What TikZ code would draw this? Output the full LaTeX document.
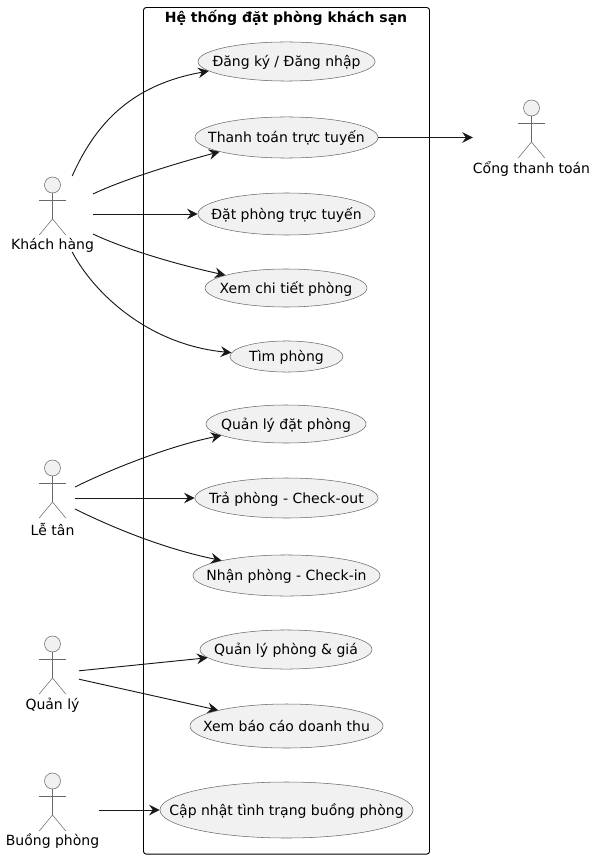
\documentclass[tikz,border=0pt]{standalone}
\usepackage{fontspec}
\setmainfont{DejaVu Sans}
\usetikzlibrary{arrows.meta,shapes.geometric}
\definecolor{ucfill}{HTML}{F1F1F1}
\definecolor{ucline}{HTML}{181818}
\tikzset{
	usecase/.style={ellipse,draw=ucline!65,fill=ucfill,line width=0.4pt,inner sep=0pt,text height=9.5pt,text depth=1.7pt,font=\fontsize{10.5}{12}\selectfont},
	actorbox/.style={inner sep=0pt,outer sep=0pt},
	actorlabel/.style={inner sep=0pt,font=\fontsize{10.5}{12}\selectfont},
	assoc/.style={-{Stealth[inset=2.8pt,length=8pt,width=8pt]},draw=ucline,line width=0.7pt},
}
\newcommand{\uctext}[1]{\makebox[0pt]{#1}}
\newcommand{\stickman}[2]{%
	\draw[draw=ucline!65,fill=ucfill,line width=0.4pt] (#1,#2) circle (8);
	\draw[draw=ucline!65,line width=0.4pt] (#1,#2+8) -- (#1,#2+34) (#1-13.3,#2+15.5) -- (#1+13.3,#2+15.5)
		(#1-13.3,#2+50) -- (#1,#2+34) -- (#1+13.3,#2+50);
}
\begin{document}
\begin{tikzpicture}[x = 0.75pt, y = -0.75pt]
	\useasboundingbox (0,0) rectangle (596,859);
	
	\node[draw=black,line width=0.7pt,rounded corners=2pt,minimum width=214.5pt,minimum height=634.9pt,inner sep=0pt] (hethong) at (286.5,430.8) {};
	\node[inner sep=0pt,font=\bfseries\fontsize{10.5}{12}\selectfont] (tieude) at (286,18) {Hệ thống đặt phòng khách sạn};
	
	\node[usecase,minimum width=132.8pt,minimum height=29.3pt] (dangky) at (286.5,61.5) {\uctext{Đăng ký / Đăng nhập}};
	\node[usecase,minimum width=137.3pt,minimum height=30.8pt] (thanhtoan) at (286.5,137.5) {\uctext{Thanh toán trực tuyến}};
	\node[usecase,minimum width=132.8pt,minimum height=31.5pt] (datphong) at (286.5,214) {\uctext{Đặt phòng trực tuyến}};
	\node[usecase,minimum width=121.5pt,minimum height=28.5pt] (chitiet) at (286,288) {\uctext{Xem chi tiết phòng}};
	\node[usecase,minimum width=84.8pt,minimum height=23.3pt] (timphong) at (286.5,356.5) {\uctext{Tìm phòng}};
	\node[usecase,minimum width=120pt,minimum height=28.5pt] (quanlydat) at (286,424) {\uctext{Quản lý đặt phòng}};
	\node[usecase,minimum width=137.3pt,minimum height=30pt] (traphong) at (286.5,498) {\uctext{Trả phòng - Check-out}};
	\node[usecase,minimum width=140.3pt,minimum height=30.8pt] (nhanphong) at (286.5,575.5) {\uctext{Nhận phòng - Check-in}};
	\node[usecase,minimum width=129pt,minimum height=29.3pt] (quanlygia) at (286,649.5) {\uctext{Quản lý phòng \& giá}};
	\node[usecase,minimum width=144.8pt,minimum height=33pt] (baocao) at (286.5,726) {\uctext{Xem báo cáo doanh thu}};
	\node[usecase,minimum width=189.8pt,minimum height=42pt] (capnhat) at (286.5,810) {\uctext{Cập nhật tình trạng buồng phòng}};
	
	\stickman{52.5}{185}
	\stickman{52.5}{468}
	\stickman{52.5}{644}
	\stickman{52.5}{781}
	\stickman{531.5}{108}
	
	\node[actorlabel] (lblkhach) at (52.5,245) {Khách hàng};
	\node[actorlabel] (lblletan) at (52.5,529) {Lễ tân};
	\node[actorlabel] (lblquanly) at (52.5,705) {Quản lý};
	\node[actorlabel] (lblbuong) at (52.5,841) {Buồng phòng};
	\node[actorlabel] (lblcong) at (531.5,169) {Cổng thanh toán};
	
	\node[actorbox,minimum width=61.5pt,minimum height=57pt] (khach) at (52,214) {};
	\node[actorbox,minimum width=33.75pt,minimum height=57pt] (letan) at (52.5,498) {};
	\node[actorbox,minimum width=39.75pt,minimum height=57pt] (quanly) at (52.5,675) {};
	\node[actorbox,minimum width=70pt,minimum height=57pt] (buong) at (52.5,810) {};
	\node[actorbox,minimum width=88pt,minimum height=57pt] (cong) at (531.5,137.5) {};
	
	\draw[assoc] (khach.62) .. controls (95,125) and (130,85) .. (dangky.187);
	\draw[assoc] (khach.26) .. controls (120,181) and (170,165) .. (thanhtoan.192);
	\draw[assoc] (khach.east) -- (datphong.west);
	\draw[assoc] (khach.-26) .. controls (120,247) and (170,263) .. (chitiet.168);
	\draw[assoc] (khach.-62) .. controls (95,295) and (150,345) .. (timphong.176);
	
	\draw[assoc] (letan.26) .. controls (105,472) and (165,447) .. (quanlydat.190);
	\draw[assoc] (letan.east) -- (traphong.west);
	\draw[assoc] (letan.-26) .. controls (105,524) and (160,548) .. (nhanphong.167);
	
	\draw[assoc] (quanly.9) -- (quanlygia.186);
	\draw[assoc] (quanly.-9) -- (baocao.167);
	
	\draw[assoc] (buong.east) -- (capnhat.west);
	\draw[assoc] (thanhtoan.east) -- (cong.west);
\end{tikzpicture}
\end{document}
